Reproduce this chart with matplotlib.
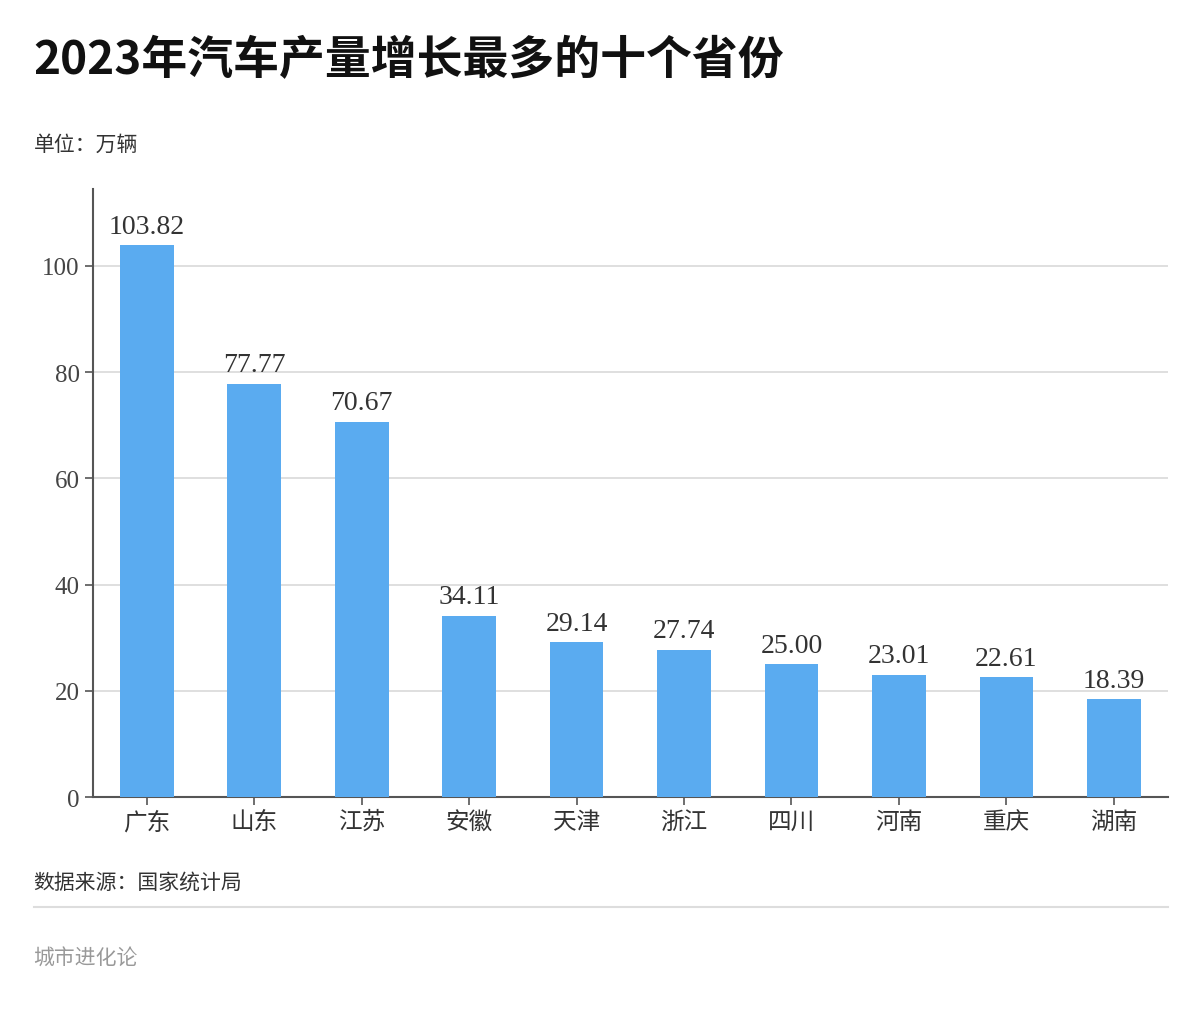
import matplotlib
matplotlib.use('Agg')
from matplotlib import pyplot as plt

plt.rcParams['font.family'] = ['Noto Sans CJK SC', 'DejaVu Sans']

provinces = ['广东', '山东', '江苏', '安徽', '天津', '浙江', '四川', '河南', '重庆', '湖南']
values = [103.82, 77.77, 70.67, 34.11, 29.14, 27.74, 25.00, 23.01, 22.61, 18.39]
yticks = [0, 20, 40, 60, 80, 100]

fig = plt.figure(figsize=(12, 10.2), dpi=100)
ax = fig.add_axes([0.0775, 0.2176, 0.8955, 0.5964])

x = range(len(provinces))
ax.bar(x, values, width=0.5, color='#5aabf0', zorder=3)
for xi, v in zip(x, values):
    ax.text(xi, v + 1.2, '{:.2f}'.format(v), ha='center', va='bottom',
            fontsize=20, color='#333333', family=['Liberation Serif', 'DejaVu Serif'])

ax.set_xlim(-0.5, 9.5)
ax.set_ylim(0, 114.5)
ax.set_yticks(yticks)
ax.set_yticklabels([str(t) for t in yticks], fontsize=18, color='#444444',
                   family=['Liberation Serif', 'DejaVu Serif'])
ax.set_xticks(list(x))
ax.set_xticklabels(provinces, fontsize=17, color='#333333')
ax.grid(axis='y', color='#d9d9d9', linewidth=1.2, zorder=0)
for s in ['top', 'right']:
    ax.spines[s].set_visible(False)
for s in ['left', 'bottom']:
    ax.spines[s].set_color('#555555')
    ax.spines[s].set_linewidth(1.5)
ax.tick_params(axis='both', length=6, color='#555555', width=1.2)

fig.text(0.028, 0.94, '2023年汽车产量增长最多的十个省份', fontsize=33, fontweight='bold',
         color='#111111', va='center')
fig.text(0.028, 0.858, '单位：万辆', fontsize=15, color='#333333', va='center')
fig.text(0.028, 0.135, '数据来源：国家统计局', fontsize=15, color='#333333', va='center')
fig.add_artist(plt.Line2D([0.028, 0.973], [0.11, 0.11], color='#dddddd', linewidth=1.5))
fig.text(0.028, 0.06, '城市进化论', fontsize=15, color='#999999', va='center')

plt.savefig('out.png', dpi=100)
